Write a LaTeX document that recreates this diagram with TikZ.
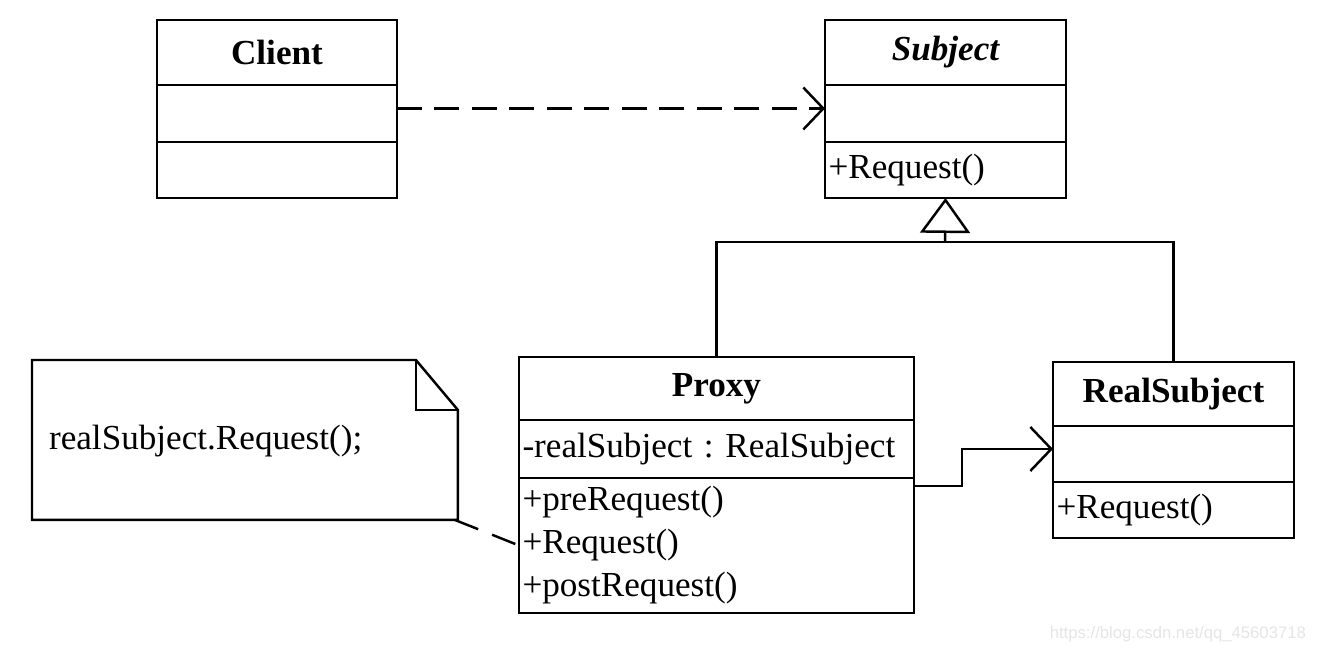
\documentclass[tikz,border=0pt]{standalone}
\usepackage{fontspec}
\setmainfont{Liberation Serif}
\newfontfamily\marksans{Liberation Sans}
\usetikzlibrary{arrows.meta,positioning}
\frenchspacing

\begin{document}
\begin{tikzpicture}[x=0.02cm, y=-0.02cm, line width=1.4pt,
	part/.style={draw, rectangle, outer sep=0pt, inner xsep=2pt, inner ysep=0pt, font=\fontsize{20}{24.5}\selectfont},
	title/.style={part, font=\fontsize{20}{24.5}\selectfont\bfseries},
	dep/.style={dash pattern=on 0.5cm off 0.25cm, -{Straight Barb[length=0.4cm,width=0.84cm]}},
	assoc/.style={-{Straight Barb[length=0.42cm,width=0.88cm]}},
	gen/.style={-{Triangle[open,length=0.7cm,width=1.0cm,fill=white]}}
]
\useasboundingbox (0,0) rectangle (1322,652);

% Client
\node[title, minimum width=4.8cm, minimum height=1.3cm, anchor=north west] (client) at (157,20) {Client};
\node[part, minimum width=4.8cm, minimum height=1.14cm, below=0pt of client] (client attr) {};
\node[part, minimum width=4.8cm, minimum height=1.12cm, below=0pt of client attr] (client ops) {};

% Subject
\node[title, font=\fontsize{20}{24.5}\selectfont\bfseries\itshape, minimum width=4.82cm, minimum height=1.3cm, anchor=north west] (subject) at (825,20) {Subject};
\node[part, minimum width=4.82cm, minimum height=1.14cm, below=0pt of subject] (subject attr) {};
\node[part, text width=4.68cm, align=left, minimum height=1.12cm, below=0pt of subject attr] (subject ops) {+Request()};

% Proxy
\node[title, minimum width=7.9cm, minimum height=1.26cm, anchor=north west] (proxy) at (519,357) {Proxy};
\node[part, text width=7.76cm, align=left, minimum height=1.16cm, below=0pt of proxy] (proxy attr) {-realSubject : RealSubject};
\node[part, text width=7.76cm, align=left, minimum height=2.7cm, below=0pt of proxy attr] (proxy ops) {+preRequest()\\ +Request()\\ +postRequest()};

% RealSubject
\node[title, minimum width=4.82cm, minimum height=1.28cm, anchor=north west] (real) at (1053,362) {RealSubject};
\node[part, minimum width=4.82cm, minimum height=1.12cm, below=0pt of real] (real attr) {};
\node[part, text width=4.68cm, align=left, minimum height=1.12cm, below=0pt of real attr] (real ops) {+Request()};

% note
\node[outer sep=0pt, minimum width=8.52cm, minimum height=3.2cm, anchor=north west] (note) at (32,360) {};
\draw (note.north west) -- ([xshift=-0.84cm]note.north east) -- ([yshift=-1cm]note.north east)
	-- (note.south east) -- (note.south west) -- cycle;
\draw ([xshift=-0.84cm]note.north east) |- ([yshift=-1cm]note.north east);
\node[anchor=west, font=\fontsize{20}{24.5}\selectfont] (note text) at (42,441) {realSubject.Request();};

% connectors
\coordinate (fork) at (945,242);
\draw[dep] ([yshift=0.1cm]client attr.east) -- ([yshift=0.1cm]subject attr.west);
\draw[gen] (fork) -- (subject ops.south);
\draw (proxy.north) |- (fork) -| (real.north);
\draw[assoc] ([yshift=-0.16cm]proxy attr.south east) -- ++(48,0) |- ([yshift=0.1cm]real attr.west);
\draw[dash pattern=on 0.5cm off 0.3cm] ([xshift=-0.06cm]note.south east) -- (proxy ops.west);

\node[anchor=east, text=black!10, font=\marksans\fontsize{9.5}{11}\selectfont] (mark) at (1313,634) {https://blog.csdn.net/qq\_45603718};
\end{tikzpicture}
\end{document}
